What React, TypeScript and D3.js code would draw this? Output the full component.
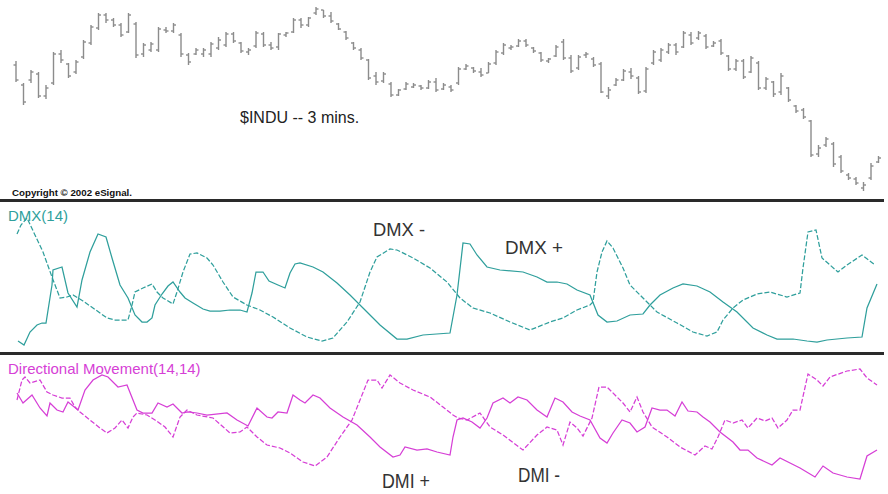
import React from "react";
import * as d3 from "d3";

// ---------- Price bars ($INDU, 3-minute) ----------
const barHighs = [139,117,130,128,115,148,150,137,140,160,175,187,187,182,177,187,178,157,158,173,173,177,167,147,152,152,158,163,168,168,158,152,169,168,158,167,168,182,182,183,193,190,188,177,169,158,152,141,128,128,118,111,118,117,115,120,122,117,115,133,136,133,132,138,150,157,155,161,161,153,148,142,155,161,145,145,148,143,138,113,122,131,132,124,133,150,152,157,157,169,168,169,166,159,161,145,141,141,144,139,123,119,127,113,95,92,80,55,63,58,45,27,23,18,37,44];
const barLows = [118,95,117,102,101,115,137,122,126,141,155,170,177,173,163,167,142,143,148,148,167,167,143,135,145,143,143,150,153,157,147,145,152,153,150,150,163,167,172,173,185,182,177,170,160,150,140,120,115,117,103,104,110,112,110,111,108,110,108,115,130,127,123,127,135,145,150,153,153,147,138,137,143,140,127,130,142,133,107,101,114,119,121,106,107,135,138,146,145,152,155,160,151,153,145,129,129,121,127,110,110,103,105,98,87,81,43,43,53,33,27,20,15,9,20,37];
const barOpens = [135,115,120,126,104,117,146,136,128,143,157,172,185,180,175,168,176,146,150,150,170,169,165,145,146,146,146,152,155,166,157,148,154,166,155,153,165,168,180,175,187,190,184,176,168,157,150,140,124,119,116,105,111,113,114,112,118,111,113,117,131,132,128,127,137,147,152,154,159,152,147,139,144,158,142,132,145,141,136,104,115,120,128,122,109,137,140,148,155,153,165,162,164,154,159,144,131,139,128,137,112,118,108,112,94,90,79,46,55,56,43,25,21,12,22,38];
const barCloses = [120,98,128,104,112,146,140,124,138,158,173,185,180,175,165,185,145,155,156,171,169,175,146,138,150,150,156,160,166,159,149,150,167,155,152,166,167,180,175,182,191,184,179,171,162,152,142,122,118,126,105,110,116,115,112,118,110,115,110,131,134,129,125,136,148,155,153,159,155,149,140,141,153,142,129,143,146,135,108,110,120,129,124,108,131,148,150,155,148,167,157,167,153,157,147,131,139,123,142,112,121,106,124,100,89,83,45,52,61,36,29,22,17,15,34,42];

// ---------- DMX(14): [minute, value] ----------
const dmxPlus: [number, number][] = [
  [0.8,4.5],[3.2,2.5],[5.6,9],[8.4,12.5],[10.4,13.5],[12,13.5],[14.4,32.5],[14.8,40],[18.4,41.5],[20.8,28.5],
  [24.4,21.5],[26.4,35],[29.6,49],[32.8,58],[36,56.5],[38.4,46],[41.6,32.5],[44.8,26],[47.6,17.5],[50.4,14],
  [52.4,14],[54.4,16],[55.6,22.5],[58.4,28],[60.8,32],[62.8,34],[65.6,29],[67.6,26],[70.8,23.5],[74.8,20.5],
  [77.6,19.5],[81.6,19.5],[85.6,20],[89.6,20],[92.4,19],[94.4,28.5],[96,39],[98.8,39],[101.2,34.5],[104.8,32.5],
  [107.6,31],[109.6,38.5],[111.6,43],[113.6,43.5],[118.8,41.5],[122.8,39],[128.4,33.5],[133.6,27.5],[138.8,21],
  [145.6,12.5],[152.4,5.5],[156.4,5.5],[162.8,7.5],[173.6,8.5],[176.4,27.5],[178.8,53.5],[181.6,53],[184.4,47.5],
  [188.4,41.5],[193.6,40],[202.8,39],[208.4,36.5],[212.4,34],[216.4,34],[220.4,33],[224.4,30],[229.6,27.5],
  [232.8,17.5],[236.4,14],[240.4,14.5],[245.6,17.5],[250.8,18],[253.6,22.5],[257.6,27.5],[262.8,31],[266.8,33],
  [272.4,32],[277.6,29],[282.8,24],[288.4,19],[294.8,11],[300.4,7.5],[304.4,5.5],[310.8,5.5],[316.4,4.5],
  [320.4,4],[324.4,5],[332.4,6],[338.4,6.5],[340.4,21],[344.4,33]
];
const dmxMinus: [number, number][] = [
  [0.4,58],[2,62.5],[4.4,66],[10.8,49],[14.4,36.5],[17.6,26],[20.4,26.5],[22.8,27.5],[26.8,24.5],[30.8,21],
  [36.4,16],[39.6,15],[44.8,15],[46.4,22.5],[47.6,29],[50.8,31],[54.4,33],[56.4,29],[58.8,26],[62.8,23],
  [64.4,29],[66.8,39],[69.6,48],[72.4,48.5],[76.4,46],[78.8,42.5],[82.8,34],[86.8,26.5],[92.4,22.5],[97.6,20],
  [102.8,16.5],[109.6,11],[116.4,6.5],[122.4,4.5],[126.8,6],[132.4,14],[137.6,24],[141.6,39],[144.4,46.5],
  [149.6,50.5],[152.4,50],[158.8,46],[165.6,41],[172.4,34],[177.6,26],[182.8,21],[189.6,18.5],[197.6,14],
  [205.6,10],[213.6,14],[218.8,16],[224.4,20],[229.6,22.5],[230.8,24],[232.4,39],[234.4,49],[236.4,54.5],
  [238.8,51],[242.8,41],[245.6,32.5],[250.8,26],[256.4,19],[264.4,13.5],[270.8,9],[276.4,7],[280.4,9],
  [282.8,15],[286.8,21],[290.8,25],[296.4,28],[301.6,29],[308.4,26.5],[313.6,28.5],[314.8,41],[316.8,59],
  [320,60],[322.4,46],[328.8,39],[332.4,42.5],[338.4,47.5],[343.6,42.5]
];

// ---------- Directional Movement(14,14): [minute, value] ----------
const dmiPlus: [number, number][] = [
  [0.4,50.5],[2.8,45.5],[6.4,49.5],[9.6,43],[12.4,39],[13.6,45.5],[16.4,42],[18.8,41],[20.8,46],[24.8,42],
  [27.6,52],[30.8,57],[34.4,59.5],[36.8,58.5],[40.8,53.5],[44.4,54.5],[48.4,42],[50.8,40.5],[54.4,40.5],
  [56.8,45.5],[60.4,43.5],[62.8,45],[66.4,40.5],[68.8,41],[72.4,40.5],[76.4,39.5],[84.4,40.5],[88.4,37],
  [92.8,34],[96.4,43],[100.4,38.5],[102.4,38],[104.8,41],[108.4,40.5],[110.8,49.5],[113.6,47],[115.6,45.5],
  [118.8,49.5],[121.6,48],[125.6,43],[130.8,38.5],[136.4,34.5],[141.6,28.5],[145.6,23.5],[150.8,18.5],
  [153.6,19.5],[155.6,23.5],[160.4,22],[164.4,22.5],[168.4,21],[173.6,19.5],[174.8,28.5],[176.4,37],
  [178.8,38],[182.4,36],[185.6,33],[188.4,38],[190.8,45.5],[194.8,48],[197.6,45.5],[200.8,48.5],[204.4,47],
  [208.4,42],[212.4,38.5],[215.6,48],[218.8,46],[222.4,41],[225.6,39],[229.6,37],[233.6,28],[236.4,25.5],
  [238.8,30.5],[242.4,37],[245.6,35.5],[248.4,31],[251.6,33.5],[254.4,43],[257.6,42],[260.4,42],[263.6,39],
  [266.4,46],[268.8,41.5],[272.4,41],[274.8,38.5],[277.6,36],[281.6,31],[286.8,26],[289.6,22],[292.8,22],
  [296.4,18],[302.4,14.5],[305.6,18],[313.6,13],[319.6,8.5],[322.8,14],[326.8,10.5],[332.4,8.5],[337.6,7.5],
  [340.4,19],[344.4,22]
];
const dmiMinus: [number, number][] = [
  [0.4,47],[2.4,57],[3.6,58.5],[5.6,55.5],[9.6,57],[12.4,51],[14.8,49.5],[18.4,48],[21.6,48],[23.6,43.5],
  [25.6,41],[29.6,37],[33.6,33],[36.4,30.5],[39.6,33],[42.4,37],[44.8,33],[46.8,38.5],[48.4,40.5],[52.4,39.5],
  [55.6,37],[59.6,33.5],[62.8,28.5],[65.6,38.5],[68.4,42],[72.4,39.5],[78.8,38],[85.6,30.5],[89.6,31],
  [92.4,33.5],[96.4,28.5],[100.4,24.5],[105.6,23],[109.6,20.5],[114.8,16],[119.6,14],[124.4,18.5],[129.6,28.5],
  [134.4,37],[137.6,47],[140.8,57],[144.4,57],[146.4,53],[149.6,59.5],[153.6,55.5],[158.8,52],[165.6,48.5],
  [170.8,43.5],[174.8,39.5],[176.8,38],[180.4,37],[185.6,40.5],[189.6,33.5],[194.8,29.5],[202.8,22],
  [208.4,29.5],[212.4,33.5],[216.4,32],[218.8,24.5],[221.6,36],[224.4,33],[226.8,29],[230.4,38],[233.2,53.5],
  [236.4,53.5],[239.6,49.5],[242.8,45.5],[245.6,41],[248.4,48.5],[250.8,41],[254.4,33.5],[260.4,28.5],
  [265.6,23.5],[271.6,19.5],[275.6,24],[278.4,22.5],[280.8,28.5],[283.6,37],[286.8,35.5],[290.4,37],
  [292.8,33],[296.4,38],[299.6,36.5],[302.4,38],[304.8,33],[308.4,37],[310.8,42],[313.6,42],[316.8,60],
  [320.4,57],[322.8,54],[325.6,58.5],[332.4,61.5],[337.6,62.5],[340.4,58],[344.4,54.5]
];

const W = 888;
const H = 494;
const FONT = "'Liberation Sans', Arial, sans-serif";
const TEAL = "#2f9f9c";
const MAGENTA = "#d63fd6";

export default function App() {
  const minutesPerBar = 3;
  const x = d3.scaleLinear().domain([0, 345]).range([16, 878.5]);
  const yPrice = d3.scaleLinear().domain([0, 200]).range([200, 0]);
  const yDmx = d3.scaleLinear().domain([0, 75]).range([350, 200]);
  const yDmi = d3.scaleLinear().domain([0, 69]).range([494, 356]);

  const dmxLine = d3
    .line<[number, number]>()
    .x((d) => x(d[0]))
    .y((d) => yDmx(d[1]));
  const dmiLine = d3
    .line<[number, number]>()
    .x((d) => x(d[0]))
    .y((d) => yDmi(d[1]));

  const tick = 2.5;

  return (
    <svg
      width={W}
      height={H}
      style={{ position: "absolute", left: 0, top: 0, background: "#fff" }}
    >
      <rect x={0} y={0} width={W} height={H} fill="#fff" />

      {/* price bars */}
      <g stroke="#8c8c8c" strokeWidth={1.4} fill="none">
        {barHighs.map((h, i) => {
          const cx = x(i * minutesPerBar);
          return (
            <g key={i}>
              <line x1={cx} x2={cx} y1={yPrice(h)} y2={yPrice(barLows[i])} />
              <line x1={cx - tick} x2={cx} y1={yPrice(barOpens[i])} y2={yPrice(barOpens[i])} />
              <line x1={cx} x2={cx + tick} y1={yPrice(barCloses[i])} y2={yPrice(barCloses[i])} />
            </g>
          );
        })}
      </g>

      <text x={240} y={123} fontFamily={FONT} fontSize={16} fill="#222">
        $INDU -- 3 mins.
      </text>
      <text
        x={12}
        y={195.5}
        fontFamily={FONT}
        fontSize={9.5}
        fontWeight="bold"
        fill="#111"
        textLength={120}
        lengthAdjust="spacingAndGlyphs"
      >
        Copyright © 2002 eSignal.
      </text>

      {/* separators */}
      <line x1={0} x2={884} y1={200.5} y2={200.5} stroke="#2a2a2a" strokeWidth={3} />
      <line x1={0} x2={884} y1={353.5} y2={353.5} stroke="#2a2a2a" strokeWidth={3} />

      {/* DMX panel */}
      <path d={dmxLine(dmxMinus) || ""} fill="none" stroke={TEAL} strokeWidth={1.25} strokeDasharray="5,2" />
      <path d={dmxLine(dmxPlus) || ""} fill="none" stroke={TEAL} strokeWidth={1.25} />
      <text x={8} y={221} fontFamily={FONT} fontSize={15} fill={TEAL}>
        DMX(14)
      </text>
      <text x={373} y={236} fontFamily={FONT} fontSize={19} fill="#333" textLength={52} lengthAdjust="spacingAndGlyphs">
        DMX -
      </text>
      <text x={505} y={254} fontFamily={FONT} fontSize={19} fill="#333" textLength={58} lengthAdjust="spacingAndGlyphs">
        DMX +
      </text>

      {/* Directional movement panel */}
      <path d={dmiLine(dmiMinus) || ""} fill="none" stroke={MAGENTA} strokeWidth={1.25} strokeDasharray="5,2" />
      <path d={dmiLine(dmiPlus) || ""} fill="none" stroke={MAGENTA} strokeWidth={1.25} />
      <text x={8} y={374} fontFamily={FONT} fontSize={15} fill={MAGENTA}>
        Directional Movement(14,14)
      </text>
      <text x={382} y={488} fontFamily={FONT} fontSize={21} fill="#333" textLength={48} lengthAdjust="spacingAndGlyphs">
        DMI +
      </text>
      <text x={518} y={482} fontFamily={FONT} fontSize={20} fill="#333" textLength={42} lengthAdjust="spacingAndGlyphs">
        DMI -
      </text>
    </svg>
  );
}
